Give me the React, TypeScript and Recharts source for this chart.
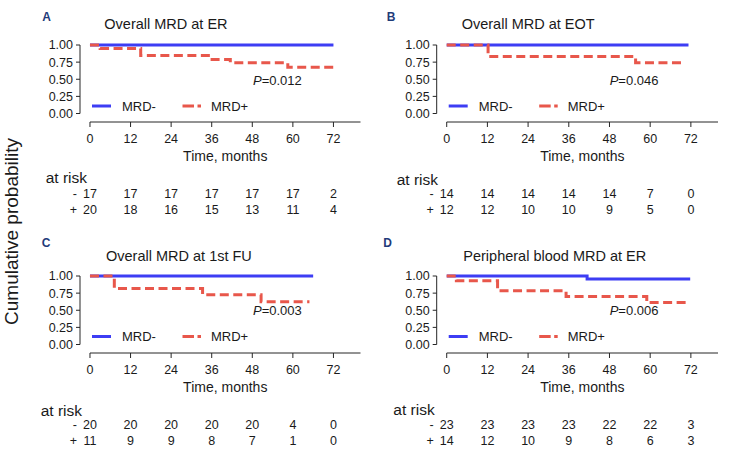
import React from 'react';
import { LineChart, Line, XAxis, YAxis, ReferenceLine } from 'recharts';

// ---------- data ----------
const monthTicks = [0, 12, 24, 36, 48, 60, 72];
const survTicks = [0, 0.25, 0.5, 0.75, 1];
const seriesNames = ['MRD-', 'MRD+'];
const riskPrefixes = ['-', '+'];
const panelLetters = ['A', 'B', 'C', 'D'];
const panelTitles = ['Overall MRD at ER', 'Overall MRD at EOT', 'Overall MRD at 1st FU', 'Peripheral blood MRD at ER'];
const pValues = ['0.012', '0.046', '0.003', '0.006'];

// Panel A
const aNegTime = [0, 72];
const aNegSurv = [1, 1];
const aPosTime = [0, 3, 15, 35.5, 41.5, 58.5, 72];
const aPosSurv = [1, 0.95, 0.845, 0.79, 0.742, 0.675, 0.675];
const aRiskNeg = [17, 17, 17, 17, 17, 17, 2];
const aRiskPos = [20, 18, 16, 15, 13, 11, 4];

// Panel B
const bNegTime = [0, 71.3];
const bNegSurv = [1, 1];
const bPosTime = [0, 12.2, 55.7, 70.3];
const bPosSurv = [1, 0.833, 0.741, 0.741];
const bRiskNeg = [14, 14, 14, 14, 14, 7, 0];
const bRiskPos = [12, 12, 10, 10, 9, 5, 0];

// Panel C
const cNegTime = [0, 66];
const cNegSurv = [1, 1];
const cPosTime = [0, 7.2, 33.3, 50.6, 64.9];
const cPosSurv = [1, 0.818, 0.727, 0.623, 0.623];
const cRiskNeg = [20, 20, 20, 20, 20, 4, 0];
const cRiskPos = [11, 9, 9, 8, 7, 1, 0];

// Panel D
const dNegTime = [0, 41.4, 71.8];
const dNegSurv = [1, 0.957, 0.957];
const dPosTime = [0, 2.85, 15, 35.2, 59, 71.5];
const dPosSurv = [1, 0.929, 0.786, 0.699, 0.612, 0.612];
const dRiskNeg = [23, 23, 23, 23, 22, 22, 3];
const dRiskPos = [14, 12, 10, 9, 8, 6, 3];

const zip = (t: number[], s: number[]) => t.map((v, i) => ({ t: v, s: s[i] }));

const panels = [
  { neg: zip(aNegTime, aNegSurv), pos: zip(aPosTime, aPosSurv), riskNeg: aRiskNeg, riskPos: aRiskPos },
  { neg: zip(bNegTime, bNegSurv), pos: zip(bPosTime, bPosSurv), riskNeg: bRiskNeg, riskPos: bRiskPos },
  { neg: zip(cNegTime, cNegSurv), pos: zip(cPosTime, cPosSurv), riskNeg: cRiskNeg, riskPos: cRiskPos },
  { neg: zip(dNegTime, dNegSurv), pos: zip(dPosTime, dPosSurv), riskNeg: dRiskNeg, riskPos: dRiskPos },
];

// ---------- layout / style ----------
const FONT = '"Liberation Sans", Arial, Helvetica, sans-serif';
const BLUE = '#3D3DF4';
const RED = '#E8574B';
const INK = '#1a1a1a';
const AXIS = '#262626';
const X_MIN = -2.95;
const X_MAX = 80;
const Y_MIN = -0.124;
const CHART_W = 365;
const CHART_H = 228;
const PLOT_TOP = 45;

const layout = [
  { left: 0, top: 0, axisX: 80, right: 4.5, letter: [42.3, 21.3], title: [104.3, 29.2], atRisk: [45.7, 183.2] },
  { left: 365, top: 0, axisX: 71.7, right: 12, letter: [386.7, 21.0], title: [461.7, 29.2], atRisk: [396.7, 184.5] },
  { left: 0, top: 230.5, axisX: 80, right: 4.5, letter: [41.7, 247.3], title: [106, 260.5], atRisk: [40.7, 415.6] },
  { left: 365, top: 230.5, axisX: 71.7, right: 12, letter: [383.3, 247.3], title: [463.3, 260.5], atRisk: [393.3, 414.8] },
];

const MonthTick = (p: any) => (
  <text x={p.x} y={p.y + 13.5} textAnchor="middle" fontSize={12.5} fill={INK} fontFamily={FONT}>
    {p.payload.value}
  </text>
);

const makeRiskTick = (counts: number[], prefix: string) => (p: any) => {
  const idx = monthTicks.indexOf(p.payload.value);
  return (
    <g>
      {idx === 0 && (
        <text x={p.x - 13} y={p.y + 14} textAnchor="end" fontSize={12.5} fill={INK} fontFamily={FONT}>
          {prefix}
        </text>
      )}
      <text x={p.x} y={p.y + 14} textAnchor="middle" fontSize={12.5} fill={INK} fontFamily={FONT}>
        {counts[idx]}
      </text>
    </g>
  );
};

const Panel = ({ i }: { i: number }) => {
  const L = layout[i];
  const d = panels[i];
  return (
    <div style={{ position: 'absolute', left: L.left, top: L.top, width: CHART_W, height: CHART_H }}>
      <LineChart width={CHART_W} height={CHART_H} margin={{ top: PLOT_TOP, right: L.right, bottom: 0, left: 0 }}>
        <YAxis
          type="number"
          domain={[Y_MIN, 1]}
          ticks={survTicks}
          interval={0}
          tickFormatter={(v: number) => v.toFixed(2)}
          width={L.axisX}
          axisLine={false}
          tickSize={4}
          tickMargin={3}
          tickLine={{ stroke: AXIS }}
          tick={{ fontSize: 12.5, fill: INK, fontFamily: FONT }}
        />
        <XAxis
          xAxisId="main"
          type="number"
          dataKey="t"
          domain={[X_MIN, X_MAX]}
          ticks={monthTicks}
          interval={0}
          axisLine={false}
          tickSize={5}
          tickMargin={2}
          tickLine={{ stroke: AXIS }}
          height={62}
          tick={MonthTick}
        />
        <XAxis
          xAxisId="neg"
          type="number"
          dataKey="t"
          domain={[X_MIN, X_MAX]}
          allowDataOverflow
          ticks={monthTicks}
          interval={0}
          axisLine={false}
          tickLine={false}
          tickSize={0}
          tickMargin={0}
          height={16}
          tick={makeRiskTick(d.riskNeg, riskPrefixes[0])}
        />
        <XAxis
          xAxisId="pos"
          type="number"
          dataKey="t"
          domain={[X_MIN, X_MAX]}
          allowDataOverflow
          ticks={monthTicks}
          interval={0}
          axisLine={false}
          tickLine={false}
          tickSize={0}
          tickMargin={0}
          height={28}
          tick={makeRiskTick(d.riskPos, riskPrefixes[1])}
        />
        <ReferenceLine
          xAxisId="main"
          segment={[{ x: X_MIN, y: 0 }, { x: X_MIN, y: 1 }]}
          stroke={AXIS}
          strokeWidth={1}
          ifOverflow="visible"
        />
        <ReferenceLine
          xAxisId="main"
          segment={[{ x: 0, y: Y_MIN }, { x: X_MAX, y: Y_MIN }]}
          stroke={AXIS}
          strokeWidth={1}
          ifOverflow="visible"
        />
        <Line
          xAxisId="main"
          data={d.neg}
          dataKey="s"
          name={seriesNames[0]}
          type="stepAfter"
          stroke={BLUE}
          strokeWidth={3}
          dot={false}
          activeDot={false}
          isAnimationActive={false}
        />
        <Line
          xAxisId="main"
          data={d.pos}
          dataKey="s"
          name={seriesNames[1]}
          type="stepAfter"
          stroke={RED}
          strokeWidth={3}
          strokeDasharray="9 4.5"
          dot={false}
          activeDot={false}
          isAnimationActive={false}
        />
      </LineChart>
    </div>
  );
};

const Overlay = () => (
  <svg
    width={730}
    height={457}
    style={{ position: 'absolute', left: 0, top: 0, pointerEvents: 'none' }}
    fontFamily={FONT}
  >
    <text
      transform="translate(17.5,231.5) rotate(-90)"
      textAnchor="middle"
      fontSize={19}
      fill={INK}
    >
      Cumulative probability
    </text>
    {layout.map((L, i) => {
      const x0 = L.left + L.axisX + 10;
      const scale = (CHART_W - L.right - L.axisX) / (X_MAX - X_MIN);
      const xEnd = x0 + X_MAX * scale;
      const y1 = L.top + PLOT_TOP;
      return (
        <g key={i}>
          <text x={L.letter[0]} y={L.letter[1]} fontSize={12} fontWeight="bold" fill="#1F3B7A">
            {panelLetters[i]}
          </text>
          <text x={L.title[0]} y={L.title[1]} fontSize={14.5} fill={INK}>
            {panelTitles[i]}
          </text>
          <text x={x0 + 163} y={y1 + 39.6} fontSize={13} fill={INK}>
            <tspan fontStyle="italic">P</tspan>={pValues[i]}
          </text>
          <line x1={x0 + 2} x2={x0 + 21} y1={y1 + 61} y2={y1 + 61} stroke={BLUE} strokeWidth={3} />
          <text x={x0 + 32} y={y1 + 65.6} fontSize={13} fill={INK}>
            {seriesNames[0]}
          </text>
          <line
            x1={x0 + 92.5}
            x2={x0 + 111}
            y1={y1 + 61}
            y2={y1 + 61}
            stroke={RED}
            strokeWidth={3}
            strokeDasharray="11.5 3.5 3.5"
          />
          <text x={x0 + 121} y={y1 + 65.6} fontSize={13} fill={INK}>
            {seriesNames[1]}
          </text>
          <text x={(x0 + xEnd) / 2} y={y1 + 116} fontSize={14} textAnchor="middle" fill={INK}>
            Time, months
          </text>
          <text x={L.atRisk[0]} y={L.atRisk[1]} fontSize={15.5} fill={INK}>
            at risk
          </text>
        </g>
      );
    })}
  </svg>
);

export default function App() {
  return (
    <div style={{ position: 'absolute', left: 0, top: 0, width: 730, height: 457, background: '#fff', fontFamily: FONT }}>
      {[0, 1, 2, 3].map((i) => (
        <Panel key={i} i={i} />
      ))}
      <Overlay />
    </div>
  );
}
